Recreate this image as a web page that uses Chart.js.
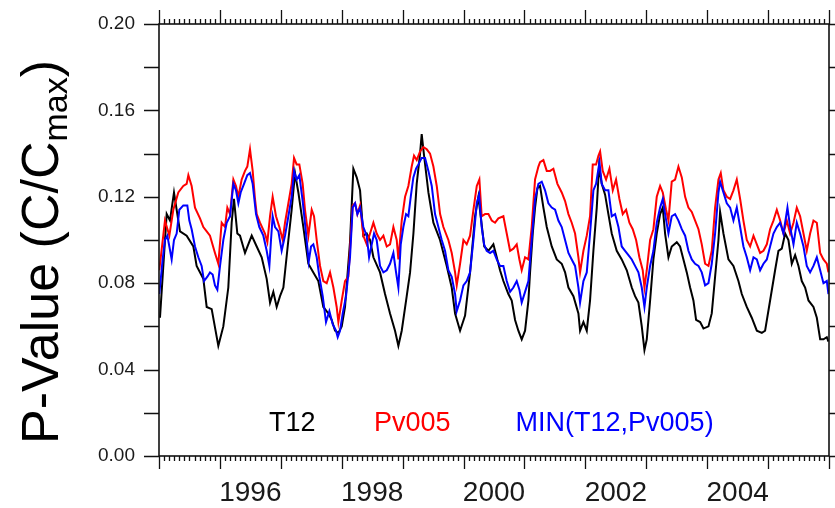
<!DOCTYPE html>
<html>
<head>
<meta charset="utf-8">
<title>P-Value</title>
<script src="https://cdn.jsdelivr.net/npm/chart.js@4.4.1/dist/chart.umd.min.js"></script>
<style>
  html, body { margin: 0; padding: 0; background: #fff; }
  #wrap { width: 835px; height: 508px; }
</style>
</head>
<body>
<div id="wrap"><canvas id="pvChart" width="835" height="508"></canvas></div>
<script>
// T12 series (decimal year, value)
const t12Year = [1995.016, 1995.126, 1995.180, 1995.246, 1995.345, 1995.454, 1995.564, 1995.618, 1995.728, 1995.783,
  1995.865, 1995.974, 1996.056, 1996.138, 1996.193, 1996.231, 1996.286, 1996.330, 1996.412, 1996.522,
  1996.604, 1996.686, 1996.768, 1996.823, 1996.877, 1996.932, 1996.987, 1997.042, 1997.124, 1997.178,
  1997.233, 1997.288, 1997.370, 1997.452, 1997.534, 1997.616, 1997.698, 1997.781, 1997.835, 1997.890,
  1997.945, 1998.000, 1998.054, 1998.136, 1998.191, 1998.246, 1998.301, 1998.355, 1998.410, 1998.465,
  1998.520, 1998.629, 1998.711, 1998.793, 1998.875, 1998.930, 1998.985, 1999.067, 1999.122, 1999.177,
  1999.231, 1999.286, 1999.313, 1999.352, 1999.423, 1999.505, 1999.614, 1999.724, 1999.806, 1999.861,
  1999.943, 2000.025, 2000.107, 2000.189, 2000.244, 2000.340, 2000.408, 2000.490, 2000.545, 2000.599,
  2000.654, 2000.736, 2000.791, 2000.846, 2000.900, 2000.955, 2001.010, 2001.065, 2001.092, 2001.136,
  2001.174, 2001.213, 2001.256, 2001.311, 2001.366, 2001.448, 2001.530, 2001.612, 2001.667, 2001.722,
  2001.804, 2001.886, 2001.913, 2001.968, 2002.023, 2002.077, 2002.132, 2002.187, 2002.225, 2002.269,
  2002.324, 2002.378, 2002.433, 2002.515, 2002.597, 2002.680, 2002.762, 2002.816, 2002.871, 2002.926,
  2002.970, 2003.008, 2003.063, 2003.117, 2003.172, 2003.227, 2003.271, 2003.309, 2003.364, 2003.418,
  2003.501, 2003.555, 2003.610, 2003.665, 2003.720, 2003.774, 2003.818, 2003.884, 2003.939, 2004.021,
  2004.075, 2004.130, 2004.185, 2004.212, 2004.267, 2004.349, 2004.431, 2004.513, 2004.568, 2004.650,
  2004.732, 2004.815, 2004.897, 2004.951, 2005.033, 2005.115, 2005.170, 2005.225, 2005.280, 2005.334,
  2005.389, 2005.444, 2005.499, 2005.553, 2005.608, 2005.663, 2005.745, 2005.800, 2005.855, 2005.909,
  2005.964, 2005.991];
const t12Value = [0.064, 0.112, 0.109, 0.122, 0.104, 0.102, 0.097, 0.088, 0.082, 0.069,
  0.068, 0.051, 0.060, 0.078, 0.108, 0.119, 0.103, 0.102, 0.094, 0.102,
  0.097, 0.092, 0.082, 0.071, 0.076, 0.069, 0.074, 0.078, 0.100, 0.114,
  0.131, 0.122, 0.106, 0.089, 0.085, 0.081, 0.069, 0.066, 0.063, 0.058,
  0.057, 0.060, 0.069, 0.099, 0.133, 0.129, 0.123, 0.102, 0.103, 0.100,
  0.092, 0.085, 0.075, 0.066, 0.058, 0.051, 0.058, 0.074, 0.085, 0.103,
  0.126, 0.140, 0.149, 0.139, 0.122, 0.108, 0.100, 0.088, 0.078, 0.066,
  0.058, 0.065, 0.085, 0.111, 0.120, 0.097, 0.095, 0.098, 0.092, 0.086,
  0.081, 0.075, 0.072, 0.063, 0.058, 0.054, 0.058, 0.072, 0.085, 0.103,
  0.115, 0.124, 0.125, 0.115, 0.106, 0.097, 0.091, 0.089, 0.085, 0.078,
  0.074, 0.066, 0.058, 0.062, 0.058, 0.072, 0.095, 0.115, 0.134, 0.126,
  0.121, 0.112, 0.103, 0.095, 0.091, 0.086, 0.078, 0.074, 0.071, 0.060,
  0.049, 0.054, 0.072, 0.091, 0.103, 0.112, 0.115, 0.103, 0.092, 0.097,
  0.099, 0.097, 0.091, 0.085, 0.078, 0.072, 0.063, 0.062, 0.059, 0.060,
  0.066, 0.083, 0.100, 0.113, 0.103, 0.091, 0.088, 0.081, 0.075, 0.069,
  0.064, 0.058, 0.057, 0.058, 0.072, 0.086, 0.095, 0.096, 0.103, 0.100,
  0.089, 0.093, 0.088, 0.081, 0.078, 0.072, 0.069, 0.064, 0.054, 0.054,
  0.055, 0.053];

// Pv005 series
const pvYear = [1995.005, 1995.098, 1995.170, 1995.235, 1995.317, 1995.399, 1995.454, 1995.482, 1995.536, 1995.591,
  1995.673, 1995.728, 1995.783, 1995.837, 1995.919, 1995.974, 1996.029, 1996.084, 1996.122, 1996.166,
  1996.221, 1996.264, 1996.303, 1996.357, 1996.412, 1996.450, 1996.494, 1996.538, 1996.576, 1996.604,
  1996.658, 1996.740, 1996.779, 1996.823, 1996.866, 1996.921, 1996.976, 1997.031, 1997.069, 1997.124,
  1997.178, 1997.217, 1997.260, 1997.304, 1997.359, 1997.397, 1997.452, 1997.507, 1997.545, 1997.589,
  1997.644, 1997.698, 1997.753, 1997.808, 1997.863, 1997.917, 1997.945, 1998.000, 1998.054, 1998.109,
  1998.180, 1998.219, 1998.257, 1998.301, 1998.355, 1998.410, 1998.465, 1998.520, 1998.574, 1998.629,
  1998.684, 1998.739, 1998.793, 1998.848, 1998.903, 1998.930, 1998.985, 1999.040, 1999.094, 1999.149,
  1999.187, 1999.231, 1999.286, 1999.341, 1999.396, 1999.450, 1999.505, 1999.560, 1999.615, 1999.669,
  1999.751, 1999.806, 1999.861, 1999.888, 1999.943, 1999.998, 2000.052, 2000.107, 2000.162, 2000.217,
  2000.260, 2000.298, 2000.353, 2000.408, 2000.463, 2000.517, 2000.572, 2000.654, 2000.709, 2000.764,
  2000.818, 2000.873, 2000.917, 2000.955, 2001.010, 2001.065, 2001.119, 2001.174, 2001.229, 2001.256,
  2001.311, 2001.366, 2001.420, 2001.475, 2001.541, 2001.612, 2001.667, 2001.722, 2001.776, 2001.831,
  2001.886, 2001.913, 2001.968, 2002.023, 2002.077, 2002.121, 2002.176, 2002.214, 2002.242, 2002.285,
  2002.340, 2002.395, 2002.450, 2002.504, 2002.559, 2002.614, 2002.669, 2002.723, 2002.778, 2002.833,
  2002.887, 2002.942, 2002.970, 2003.008, 2003.063, 2003.117, 2003.172, 2003.227, 2003.271, 2003.325,
  2003.364, 2003.418, 2003.473, 2003.528, 2003.583, 2003.638, 2003.692, 2003.747, 2003.802, 2003.857,
  2003.911, 2003.966, 2004.021, 2004.075, 2004.130, 2004.185, 2004.223, 2004.267, 2004.322, 2004.377,
  2004.431, 2004.486, 2004.541, 2004.595, 2004.650, 2004.705, 2004.760, 2004.815, 2004.869, 2004.924,
  2004.979, 2005.033, 2005.088, 2005.143, 2005.198, 2005.252, 2005.307, 2005.362, 2005.417, 2005.471,
  2005.526, 2005.581, 2005.635, 2005.690, 2005.745, 2005.800, 2005.855, 2005.909, 2005.964, 2005.991];
const pvValue = [0.086, 0.109, 0.102, 0.114, 0.122, 0.125, 0.126, 0.130, 0.125, 0.115,
  0.110, 0.106, 0.104, 0.102, 0.094, 0.089, 0.108, 0.106, 0.115, 0.112,
  0.128, 0.125, 0.120, 0.128, 0.132, 0.134, 0.142, 0.132, 0.119, 0.112,
  0.108, 0.103, 0.099, 0.111, 0.120, 0.111, 0.106, 0.100, 0.108, 0.117,
  0.126, 0.138, 0.135, 0.135, 0.126, 0.114, 0.102, 0.114, 0.111, 0.100,
  0.088, 0.081, 0.080, 0.085, 0.078, 0.069, 0.062, 0.072, 0.081, 0.083,
  0.116, 0.117, 0.112, 0.116, 0.102, 0.098, 0.103, 0.108, 0.103, 0.100,
  0.102, 0.097, 0.098, 0.106, 0.100, 0.091, 0.109, 0.120, 0.125, 0.134,
  0.139, 0.137, 0.141, 0.143, 0.142, 0.140, 0.134, 0.125, 0.112, 0.106,
  0.100, 0.094, 0.085, 0.079, 0.089, 0.100, 0.098, 0.102, 0.114, 0.125,
  0.128, 0.111, 0.112, 0.112, 0.109, 0.108, 0.110, 0.111, 0.103, 0.095,
  0.096, 0.098, 0.091, 0.086, 0.092, 0.091, 0.106, 0.128, 0.134, 0.136,
  0.137, 0.132, 0.132, 0.133, 0.126, 0.122, 0.118, 0.112, 0.108, 0.103,
  0.092, 0.085, 0.095, 0.102, 0.111, 0.135, 0.135, 0.139, 0.141, 0.132,
  0.128, 0.133, 0.123, 0.128, 0.119, 0.112, 0.114, 0.108, 0.105, 0.100,
  0.092, 0.086, 0.078, 0.086, 0.100, 0.105, 0.120, 0.125, 0.122, 0.114,
  0.109, 0.127, 0.128, 0.134, 0.129, 0.120, 0.115, 0.113, 0.109, 0.105,
  0.098, 0.089, 0.088, 0.095, 0.115, 0.128, 0.131, 0.123, 0.120, 0.119,
  0.123, 0.128, 0.119, 0.109, 0.100, 0.097, 0.102, 0.098, 0.094, 0.095,
  0.098, 0.105, 0.109, 0.114, 0.109, 0.103, 0.109, 0.103, 0.108, 0.115,
  0.111, 0.103, 0.095, 0.103, 0.109, 0.108, 0.094, 0.091, 0.089, 0.085];

// MIN(T12,Pv005) series
const minYear = [1995.005, 1995.060, 1995.098, 1995.137, 1995.170, 1995.208, 1995.246, 1995.290, 1995.334, 1995.399,
  1995.465, 1995.498, 1995.536, 1995.591, 1995.646, 1995.700, 1995.739, 1995.794, 1995.837, 1995.881,
  1995.919, 1995.958, 1996.002, 1996.056, 1996.111, 1996.166, 1996.221, 1996.264, 1996.303, 1996.341,
  1996.396, 1996.450, 1996.494, 1996.538, 1996.593, 1996.647, 1996.713, 1996.768, 1996.812, 1996.839,
  1996.866, 1996.905, 1996.960, 1997.014, 1997.069, 1997.124, 1997.178, 1997.217, 1997.260, 1997.304,
  1997.359, 1997.414, 1997.458, 1997.496, 1997.534, 1997.589, 1997.633, 1997.688, 1997.742, 1997.797,
  1997.852, 1997.906, 1997.934, 1997.972, 1998.016, 1998.071, 1998.136, 1998.180, 1998.219, 1998.257,
  1998.301, 1998.355, 1998.410, 1998.449, 1998.493, 1998.531, 1998.574, 1998.629, 1998.684, 1998.739,
  1998.793, 1998.848, 1998.892, 1998.930, 1998.969, 1999.012, 1999.056, 1999.094, 1999.133, 1999.176,
  1999.220, 1999.259, 1999.313, 1999.368, 1999.423, 1999.478, 1999.532, 1999.587, 1999.642, 1999.696,
  1999.751, 1999.806, 1999.861, 1999.888, 1999.943, 1999.998, 2000.052, 2000.107, 2000.162, 2000.217,
  2000.255, 2000.298, 2000.337, 2000.380, 2000.435, 2000.490, 2000.545, 2000.599, 2000.654, 2000.709,
  2000.764, 2000.818, 2000.873, 2000.917, 2000.955, 2001.010, 2001.065, 2001.119, 2001.174, 2001.229,
  2001.284, 2001.338, 2001.393, 2001.448, 2001.503, 2001.557, 2001.612, 2001.667, 2001.722, 2001.776,
  2001.831, 2001.886, 2001.913, 2001.968, 2002.023, 2002.077, 2002.132, 2002.176, 2002.231, 2002.269,
  2002.324, 2002.378, 2002.433, 2002.488, 2002.543, 2002.597, 2002.652, 2002.707, 2002.762, 2002.816,
  2002.871, 2002.926, 2002.970, 2003.008, 2003.063, 2003.117, 2003.172, 2003.227, 2003.271, 2003.309,
  2003.364, 2003.418, 2003.473, 2003.528, 2003.583, 2003.638, 2003.692, 2003.747, 2003.802, 2003.857,
  2003.911, 2003.966, 2004.021, 2004.075, 2004.130, 2004.185, 2004.212, 2004.267, 2004.322, 2004.377,
  2004.431, 2004.486, 2004.541, 2004.595, 2004.650, 2004.705, 2004.760, 2004.815, 2004.869, 2004.924,
  2004.979, 2005.033, 2005.088, 2005.143, 2005.198, 2005.252, 2005.318, 2005.362, 2005.417, 2005.471,
  2005.526, 2005.581, 2005.635, 2005.690, 2005.745, 2005.800, 2005.855, 2005.909, 2005.964, 2005.991];
const minValue = [0.075, 0.091, 0.100, 0.102, 0.097, 0.091, 0.100, 0.103, 0.114, 0.116,
  0.116, 0.109, 0.105, 0.097, 0.092, 0.088, 0.081, 0.083, 0.085, 0.084,
  0.079, 0.077, 0.088, 0.100, 0.108, 0.111, 0.126, 0.123, 0.117, 0.122,
  0.126, 0.130, 0.131, 0.126, 0.112, 0.106, 0.102, 0.095, 0.088, 0.100,
  0.111, 0.106, 0.104, 0.095, 0.102, 0.111, 0.120, 0.132, 0.128, 0.130,
  0.118, 0.103, 0.090, 0.097, 0.098, 0.092, 0.083, 0.074, 0.062, 0.067,
  0.061, 0.058, 0.055, 0.058, 0.066, 0.074, 0.092, 0.115, 0.117, 0.112,
  0.115, 0.106, 0.102, 0.092, 0.098, 0.103, 0.100, 0.088, 0.085, 0.086,
  0.089, 0.094, 0.085, 0.078, 0.098, 0.106, 0.112, 0.111, 0.120, 0.129,
  0.133, 0.135, 0.138, 0.138, 0.132, 0.125, 0.112, 0.106, 0.100, 0.095,
  0.086, 0.083, 0.075, 0.067, 0.072, 0.079, 0.081, 0.085, 0.100, 0.117,
  0.121, 0.106, 0.098, 0.095, 0.094, 0.095, 0.091, 0.088, 0.088, 0.081,
  0.076, 0.078, 0.081, 0.077, 0.071, 0.076, 0.081, 0.100, 0.119, 0.126,
  0.127, 0.123, 0.117, 0.115, 0.114, 0.109, 0.106, 0.100, 0.094, 0.091,
  0.088, 0.078, 0.071, 0.081, 0.085, 0.103, 0.123, 0.126, 0.136, 0.126,
  0.123, 0.123, 0.111, 0.112, 0.106, 0.097, 0.095, 0.093, 0.091, 0.088,
  0.085, 0.078, 0.069, 0.078, 0.088, 0.095, 0.108, 0.115, 0.119, 0.112,
  0.103, 0.111, 0.112, 0.109, 0.105, 0.102, 0.095, 0.091, 0.089, 0.088,
  0.085, 0.079, 0.080, 0.089, 0.103, 0.122, 0.127, 0.122, 0.117, 0.115,
  0.109, 0.115, 0.106, 0.097, 0.092, 0.086, 0.092, 0.091, 0.086, 0.089,
  0.091, 0.097, 0.103, 0.106, 0.108, 0.103, 0.115, 0.106, 0.098, 0.108,
  0.103, 0.097, 0.088, 0.085, 0.088, 0.092, 0.086, 0.080, 0.081, 0.075];

const yearLabels = [1996, 1998, 2000, 2002, 2004];
const valueTicks = [0, 0.04, 0.08, 0.12, 0.16, 0.2];

const FONT = "'Liberation Sans', Arial, Helvetica, sans-serif";

function points(xs, ys) {
  return xs.map((x, i) => ({ x: x, y: ys[i] }));
}

// frame, tick marks, y title and the coloured legend text
const decorations = {
  id: 'decorations',
  afterDraw(chart) {
    const { ctx, chartArea: a, scales } = chart;
    const x = scales.x, y = scales.y;
    ctx.save();
    ctx.strokeStyle = '#111';
    ctx.lineWidth = 1.6;
    ctx.strokeRect(a.left, a.top, a.right - a.left, a.bottom - a.top);

    ctx.lineWidth = 1.3;
    ctx.beginPath();
    // monthly ticks on top and bottom, long ones at each January
    for (let m = 0; m <= 132; m++) {
      const px = Math.round(x.getPixelForValue(1995 + m / 12)) + 0.5;
      const big = m % 12 === 0;
      ctx.moveTo(px, a.bottom);
      ctx.lineTo(px, a.bottom + (big ? 13 : 5));
      ctx.moveTo(px, a.top);
      ctx.lineTo(px, a.top - (big ? 14 : 5));
    }
    ctx.stroke();

    ctx.lineWidth = 1.6;
    ctx.beginPath();
    for (let k = 0; k <= 10; k++) {
      const py = Math.round(y.getPixelForValue(k * 0.02)) + 0.5;
      ctx.moveTo(a.left - 15, py);
      ctx.lineTo(a.left, py);
      ctx.moveTo(a.right, py);
      ctx.lineTo(a.right + 15, py);
    }
    ctx.stroke();

    // y axis title with subscript
    const big = '52px ' + FONT, small = '34px ' + FONT;
    const main = 'P-Value (C/C', sub = 'max', tail = ')';
    ctx.font = big;
    const w1 = ctx.measureText(main).width, w3 = ctx.measureText(tail).width;
    ctx.font = small;
    const w2 = ctx.measureText(sub).width;
    const total = w1 + w2 + w3;
    ctx.translate(58, (a.top + a.bottom) / 2 + 12);
    ctx.rotate(-Math.PI / 2);
    ctx.fillStyle = '#000';
    ctx.textBaseline = 'alphabetic';
    ctx.textAlign = 'left';
    let cx = -total / 2;
    ctx.font = big;
    ctx.fillText(main, cx, 0);
    cx += w1;
    ctx.font = small;
    ctx.fillText(sub, cx, 9);
    cx += w2;
    ctx.font = big;
    ctx.fillText(tail, cx, 0);
    ctx.restore();

    // legend text inside the plot
    ctx.save();
    ctx.font = '27px ' + FONT;
    ctx.textAlign = 'center';
    ctx.textBaseline = 'alphabetic';
    const w = a.right - a.left;
    chart.data.datasets.forEach((ds) => {
      ctx.fillStyle = ds.borderColor;
      ctx.fillText(ds.label, a.left + w * ds.legendAt, a.bottom - 25);
    });
    ctx.restore();
  }
};

new Chart(document.getElementById('pvChart'), {
  type: 'line',
  data: {
    datasets: [
      { label: 'T12', data: points(t12Year, t12Value), borderColor: '#000000', order: 3, legendAt: 0.199 },
      { label: 'Pv005', data: points(pvYear, pvValue), borderColor: '#ff0000', order: 2, legendAt: 0.378 },
      { label: 'MIN(T12,Pv005)', data: points(minYear, minValue), borderColor: '#0000ff', order: 1, legendAt: 0.68 }
    ]
  },
  options: {
    responsive: false,
    animation: false,
    devicePixelRatio: 1,
    layout: { padding: { left: 0, right: 6, top: 24, bottom: 0 } },
    elements: {
      line: { borderWidth: 2, tension: 0, fill: false },
      point: { radius: 0 }
    },
    plugins: {
      legend: { display: false },
      tooltip: { enabled: false }
    },
    scales: {
      x: {
        type: 'linear',
        min: 1995,
        max: 2006,
        grid: { display: false, drawTicks: false },
        border: { display: false },
        afterBuildTicks: (scale) => {
          // each year label sits in the middle of its year
          scale.ticks = yearLabels.map(v => ({ value: v + 0.5 }));
        },
        afterFit: (scale) => {
          scale.height = 52;
          scale.paddingLeft = 0;
          scale.paddingRight = 0;
        },
        ticks: {
          autoSkip: false,
          maxRotation: 0,
          padding: 20,
          color: '#1a1a1a',
          font: { family: FONT, size: 28 },
          callback: (v) => String(Math.floor(v))
        }
      },
      y: {
        min: 0,
        max: 0.2,
        grid: { display: false, drawTicks: false },
        border: { display: false },
        afterBuildTicks: (scale) => {
          scale.ticks = valueTicks.map(v => ({ value: v }));
        },
        afterFit: (scale) => {
          scale.width = 159;
          scale.paddingTop = 0;
          scale.paddingBottom = 0;
        },
        ticks: {
          padding: 24,
          color: '#1a1a1a',
          font: { family: FONT, size: 19 },
          callback: (v) => v.toFixed(2)
        }
      }
    }
  },
  plugins: [decorations]
});
</script>
</body>
</html>
